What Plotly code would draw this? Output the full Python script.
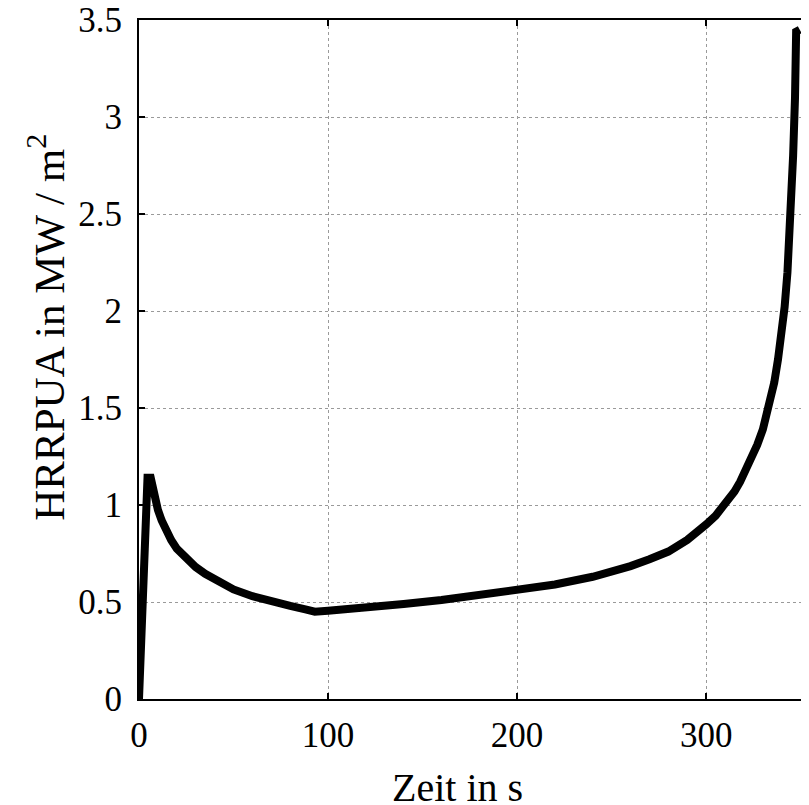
import plotly.graph_objects as go

# Data
zeit = [0, 3.8, 4.5, 6.2, 7, 8, 9, 10, 12, 14, 17, 20, 25, 30, 35, 40, 45, 50,
        60, 70, 80, 88, 93,
        100, 110, 120, 140, 160, 180, 200, 220, 240, 250, 260, 270, 280, 290,
        295, 300, 305, 310, 315, 318, 321, 324, 327, 330, 332, 334, 336, 338,
        340, 341.5, 343, 344.5, 346, 347, 347.6, 349.5]
hrrpua = [0, 1.13, 1.14, 1.14, 1.10, 1.05, 1.01, 0.975, 0.92, 0.875, 0.82,
          0.775, 0.72, 0.68, 0.645, 0.615, 0.59, 0.565,
          0.53, 0.50, 0.48, 0.462, 0.45,
          0.455, 0.462, 0.47, 0.49, 0.51, 0.535, 0.56, 0.59, 0.63, 0.655,
          0.685, 0.72, 0.76, 0.82, 0.855, 0.90, 0.945, 1.00, 1.07, 1.12, 1.18,
          1.24, 1.31, 1.39, 1.46, 1.54, 1.63, 1.75, 1.89, 2.02, 2.20, 2.45,
          2.80, 3.10, 3.44, 3.45]

x_ticks = [0, 100, 200, 300]
y_ticks = [0, 0.5, 1, 1.5, 2, 2.5, 3, 3.5]
y_ticktext = ["0", "0.5", "1", "1.5", "2", "2.5", "3", "3.5"]

FONT = "Liberation Serif, Times New Roman, DejaVu Serif, serif"

fig = go.Figure()
fig.add_trace(go.Scatter(
    x=zeit, y=hrrpua, mode="lines",
    line=dict(color="black", width=8),
    showlegend=False, hoverinfo="skip",
))

axis_common = dict(
    showline=True, linecolor="black", linewidth=2,
    ticks="inside", ticklen=6, tickwidth=2, tickcolor="black",
    showgrid=True, gridcolor="#9a9a9a", gridwidth=1, griddash="dot",
    zeroline=False, mirror="ticks", automargin=False,
    ticklabeloverflow="allow",
    tickfont=dict(family=FONT, size=35, color="black"),
)

fig.update_xaxes(
    range=[0, 354.4], tickvals=x_ticks, ticktext=[str(v) for v in x_ticks],
    ticklabelstandoff=4,
    **axis_common,
)
fig.update_yaxes(
    range=[0, 3.5], tickvals=y_ticks, ticktext=y_ticktext,
    ticklabelstandoff=8,
    **axis_common,
)

fig.add_annotation(
    text="HRRPUA in MW / m<sup>2</sup>", textangle=-90,
    xref="paper", yref="paper", x=-0.140, y=0.547,
    xanchor="center", yanchor="middle", showarrow=False,
    font=dict(family=FONT, size=43, color="black"),
)
fig.add_annotation(
    text="Zeit in s",
    xref="paper", yref="paper", x=0.476, y=-0.130,
    xanchor="center", yanchor="middle", showarrow=False,
    font=dict(family=FONT, size=40, color="black"),
)

# the page body adds an 8px offset; margins compensate so the plot area
# sits where the reference has it
fig.update_layout(
    width=809, height=805,
    margin=dict(l=131, r=8, t=12, b=114),
    plot_bgcolor="white", paper_bgcolor="white",
)

fig.write_html("out.html")
